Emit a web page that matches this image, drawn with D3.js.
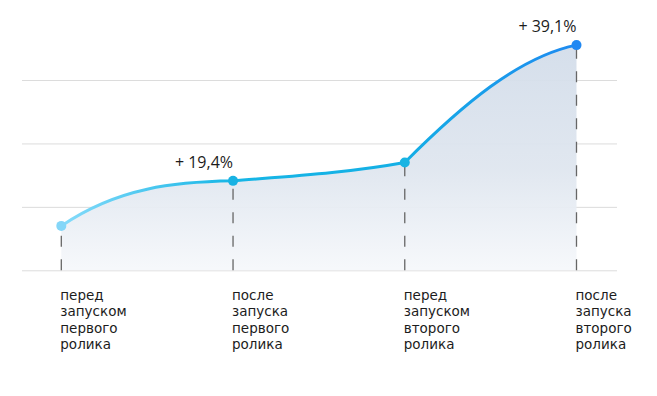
<!DOCTYPE html>
<html>
<head>
<meta charset="utf-8">
<script src="https://cdn.jsdelivr.net/npm/d3@7"></script>
<style>
  html, body { margin: 0; padding: 0; background: #fff; }
  svg { display: block; }
  text { fill: #1c1c1c; }
</style>
</head>
<body>
<div id="chart"></div>
<script>
  // data
  var stages = ['before1', 'after1', 'before2', 'after2'];
  var stageLabels = [
    ['перед', 'запуском', 'первого', 'ролика'],
    ['после', 'запуска', 'первого', 'ролика'],
    ['перед', 'запуском', 'второго', 'ролика'],
    ['после', 'запуска', 'второго', 'ролика']
  ];
  var values = [0.70, 1.41, 1.70, 3.55];
  // slope of the drawn curve entering / leaving each point (value units per stage)
  var slopeIn = [0, 0.05, 0.49, 0.54];
  var slopeOut = [1.84, 0.22, 2.71, 0];
  var growthLabels = [null, '+ 19,4%', null, '+ 39,1%'];
  var gridTicks = [0, 1, 2, 3];
  var dotColors = ['#84d6f8', '#18b2e3', '#18b4e3', '#2088f2'];

  var width = 657, height = 396;

  var svg = d3.select('#chart').append('svg')
      .attr('width', width)
      .attr('height', height);

  var x = d3.scalePoint()
      .domain(stages)
      .range([61.3, 576.5]);

  var y = d3.scaleLinear()
      .domain([0, 3])
      .range([270.3, 80]);

  var step = x.step();

  var defs = svg.append('defs');

  var areaGrad = defs.append('linearGradient')
      .attr('id', 'areaGrad')
      .attr('gradientUnits', 'userSpaceOnUse')
      .attr('x1', 0).attr('y1', y(values[3]))
      .attr('x2', 0).attr('y2', y(0));
  areaGrad.append('stop').attr('offset', '0%').attr('stop-color', '#d3ddea');
  areaGrad.append('stop').attr('offset', '55%').attr('stop-color', '#dfe6ef');
  areaGrad.append('stop').attr('offset', '100%').attr('stop-color', '#f6f8fb');

  var lineGrad = defs.append('linearGradient')
      .attr('id', 'lineGrad')
      .attr('gradientUnits', 'userSpaceOnUse')
      .attr('x1', x(stages[0])).attr('y1', 0)
      .attr('x2', x(stages[3])).attr('y2', 0);
  lineGrad.append('stop').attr('offset', '0%').attr('stop-color', '#86dbfa');
  lineGrad.append('stop').attr('offset', '33%').attr('stop-color', '#16b6e6');
  lineGrad.append('stop').attr('offset', '66%').attr('stop-color', '#14afe5');
  lineGrad.append('stop').attr('offset', '100%').attr('stop-color', '#1e8af0');

  // grid
  svg.append('g')
      .selectAll('line')
      .data(gridTicks)
      .enter().append('line')
      .attr('x1', 22)
      .attr('x2', 617)
      .attr('y1', function(d) { return y(d) + 0.5; })
      .attr('y2', function(d) { return y(d) + 0.5; })
      .attr('stroke', '#dcdcdc')
      .attr('stroke-width', 1);

  var points = stages.map(function(s, i) { return { key: s, v: values[i], i: i }; });

  // hermite curve through the points with the slopes above
  function curvePath(pts, closeToBase) {
    var p = d3.path();
    var unit = y(0) - y(1);
    p.moveTo(x(pts[0].key), y(pts[0].v));
    for (var i = 0; i < pts.length - 1; i++) {
      var a = pts[i], b = pts[i + 1];
      var x0 = x(a.key), y0 = y(a.v), x1 = x(b.key), y1 = y(b.v);
      var h = (x1 - x0) / 3;
      var m0 = -slopeOut[a.i] * unit / step;
      var m1 = -slopeIn[b.i] * unit / step;
      p.bezierCurveTo(x0 + h, y0 + m0 * h, x1 - h, y1 - m1 * h, x1, y1);
    }
    if (closeToBase) {
      p.lineTo(x(pts[pts.length - 1].key), y(0));
      p.lineTo(x(pts[0].key), y(0));
      p.closePath();
    }
    return p.toString();
  }

  svg.append('path')
      .attr('d', curvePath(points, true))
      .attr('fill', 'url(#areaGrad)')
      .attr('opacity', 0.95);

  // dashed drop lines
  svg.append('g')
      .selectAll('line')
      .data(points)
      .enter().append('line')
      .attr('x1', function(d) { return x(d.key); })
      .attr('x2', function(d) { return x(d.key); })
      .attr('y1', y(0))
      .attr('y2', function(d) { return y(d.v); })
      .attr('stroke', '#666')
      .attr('stroke-width', 1.3)
      .attr('stroke-dasharray', '11,12.5');

  svg.append('path')
      .attr('d', curvePath(points, false))
      .attr('fill', 'none')
      .attr('stroke', 'url(#lineGrad)')
      .attr('stroke-width', 3)
      .attr('stroke-linecap', 'round');

  svg.append('g')
      .selectAll('circle')
      .data(points)
      .enter().append('circle')
      .attr('cx', function(d) { return x(d.key); })
      .attr('cy', function(d) { return y(d.v); })
      .attr('r', 5)
      .attr('fill', function(d) { return dotColors[d.i]; });

  // growth labels
  svg.append('g')
      .selectAll('text')
      .data(points.filter(function(d) { return growthLabels[d.i]; }))
      .enter().append('text')
      .attr('x', function(d) { return x(d.key); })
      .attr('y', function(d) { return y(d.v) - 13; })
      .attr('text-anchor', 'end')
      .style('font-family', '"Open Sans", sans-serif')
      .style('font-size', '16px')
      .text(function(d) { return growthLabels[d.i]; });

  // category labels
  var cats = svg.append('g')
      .selectAll('text')
      .data(points)
      .enter().append('text')
      .attr('x', function(d) { return x(d.key) - 1; })
      .attr('y', 299.7)
      .style('font-family', '"DejaVu Sans", sans-serif')
      .style('font-size', '13.5px');

  cats.selectAll('tspan')
      .data(function(d) { return stageLabels[d.i].map(function(t) { return { t: t, x: x(d.key) - 1 }; }); })
      .enter().append('tspan')
      .attr('x', function(d) { return d.x; })
      .attr('dy', function(d, j) { return j === 0 ? 0 : 16.4; })
      .text(function(d) { return d.t; });
</script>
</body>
</html>
